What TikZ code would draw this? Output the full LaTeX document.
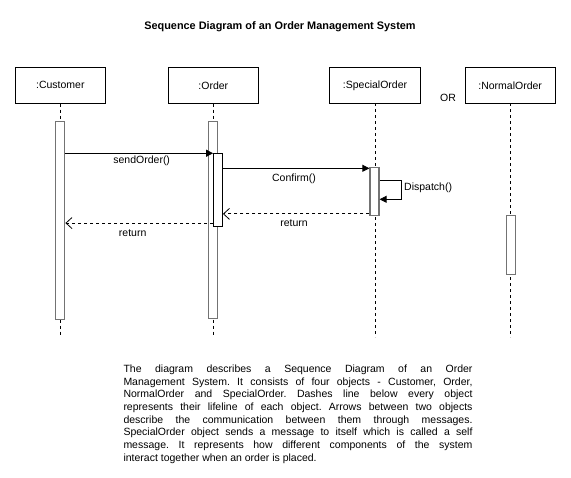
\documentclass[tikz,border=0pt]{standalone}
\usepackage{fontspec}
\setmainfont{Liberation Sans}
\usetikzlibrary{arrows.meta,calc}
\begin{document}
\frenchspacing
\begin{tikzpicture}[x=1pt,y=-1pt,
  every node/.style={font=\fontsize{10.5}{12.7}\selectfont},
  objbox/.style={draw=black, line width=0.8pt, minimum width=90.5pt, minimum height=36pt, inner sep=0pt},
  lifeline/.style={draw=black, line width=0.8pt, dash pattern=on 3pt off 3pt},
  actbar/.style={draw=black!55, fill=white, line width=1.2pt, minimum width=9pt, inner sep=0pt},
  actbarin/.style={draw=black, fill=white, line width=0.8pt, minimum width=9pt, inner sep=0pt},
  msg/.style={draw=black, line width=0.8pt, -{Triangle[length=7pt,width=7pt]}},
  ret/.style={draw=black, line width=0.8pt, dash pattern=on 3pt off 3pt, -{Straight Barb[length=6pt,width=11pt,line width=0.8pt]}},
  lbl/.style={inner sep=0pt}
]
\useasboundingbox[fill=white] (0,0) rectangle (571,478);

\node[font=\fontsize{10.9}{13}\selectfont\bfseries] (title) at (280,26.7) {Sequence Diagram of an Order Management System};

% objects
\node[objbox] (cust) at (60.3,85.3) {:Customer};
\node[objbox] (ord) at (213.3,85.3) {:Order};
\node[objbox] (spec) at (375,85.3) {:SpecialOrder};
\node[objbox] (norm) at (510.2,85.3) {:NormalOrder};
\node[lbl] (or) at (448,97.7) {OR};

% lifelines
\coordinate (custend) at (60.3,337.3);
\coordinate (ordend) at (213.3,337.3);
\coordinate (specend) at (375.5,337.3);
\coordinate (normend) at (510.3,337.3);
\draw[lifeline] (cust.south) -- (custend);
\draw[lifeline] (ord.south) -- (ordend);
\draw[lifeline] (375.5,103.3) -- (specend);
\draw[lifeline] (510.3,103.3) -- (normend);

% activation bars
\node[actbar, minimum height=198pt] (cb) at (60.3,220.2) {};
\node[actbar, minimum height=197pt] (ob) at (213.3,219.7) {};
\node[actbarin, minimum height=72.3pt] (ob2) at (218,189.8) {};
\node[actbar, minimum height=48.4pt] (sb) at (374.5,191.5) {};
\node[actbar, minimum height=58.6pt] (nb) at (510.7,245) {};

% messages
\draw[msg] (cb.east |- ob2.north west) -- (ob2.north west);
\node[lbl] (l1) at (141.7,161) {sendOrder()};

\coordinate (cfy) at (0,168.3);
\draw[msg] (ob2.east |- cfy) -- (sb.west |- cfy);
\node[lbl] (l2) at (294,179) {Confirm()};

\coordinate (s1) at ($(sb.east)+(0,-10.8)$);
\coordinate (s2) at ($(sb.east)+(0,7.8)$);
\draw[msg] (s1) -- ++(21.7,0) |- (s2);
\node[lbl, anchor=west] (l3) at (404,188) {Dispatch()};

\coordinate (r1) at ($(sb.south west)+(0,-2.4)$);
\draw[ret] (r1) -- (ob2.east |- r1);
\node[lbl] (l4) at (294,223.5) {return};

\coordinate (r2) at ($(ob2.south west)+(0,-3.3)$);
\draw[ret] (r2) -- (cb.east |- r2);
\node[lbl] (l5) at (132.7,232.7) {return};

% description
\node[anchor=north west, inner sep=0pt, text width=349pt, align=justify,
      font=\fontsize{10.5}{12.7}\selectfont] (desc) at (123.3,364.5)
{The diagram describes a Sequence Diagram of an Order\linebreak
Management System. It consists of four objects - Customer, Order,\linebreak
NormalOrder and SpecialOrder. Dashes line below every object\linebreak
represents their lifeline of each object. Arrows between two objects\linebreak
describe the communication between them through messages.\linebreak
SpecialOrder object sends a message to itself which is called a self\linebreak
message. It represents how different components of the system\linebreak
interact together when an order is placed.};
\end{tikzpicture}
\end{document}
